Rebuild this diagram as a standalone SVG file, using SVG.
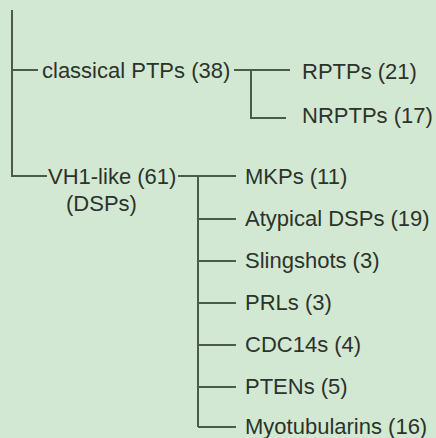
<svg xmlns="http://www.w3.org/2000/svg" width="436" height="438" viewBox="0 0 436 438">
  <style>
    .bg { fill: #d3e8d2; }
    .wire { fill: none; stroke: #4b5a4b; stroke-width: 2; }
    .label { font-family: "Liberation Sans", Arial, sans-serif; font-size: 22px; fill: #2b332b; }
  </style>
  <rect class="bg" x="0" y="0" width="436" height="438"/>

  <!-- tree connectors -->
  <g id="connectors">
    <path class="wire" d="M12 10 V176 H47"/>
    <path class="wire" d="M12 70 H38"/>
    <path class="wire" d="M234 70 H290 M251 70 V118 H286"/>
    <path class="wire" d="M178 176 H236 M198 176 V427"/>
    <path class="wire" d="M198 219 H236 M198 261 H236 M198 303 H236 M198 345 H236 M198 387 H236 M198 427 H236"/>
  </g>

  <g id="classical-ptps"><text class="label" x="42" y="78">classical PTPs (38)</text></g>
  <g id="rptps"><text class="label" x="302" y="79">RPTPs (21)</text></g>
  <g id="nrptps"><text class="label" x="302" y="123">NRPTPs (17)</text></g>
  <g id="vh1-like">
    <text class="label" x="48" y="184">VH1-like (61)</text>
    <text class="label" x="66" y="211">(DSPs)</text>
  </g>
  <g id="mkps"><text class="label" x="245" y="184">MKPs (11)</text></g>
  <g id="atypical-dsps"><text class="label" x="245" y="226">Atypical DSPs (19)</text></g>
  <g id="slingshots"><text class="label" x="245" y="268">Slingshots (3)</text></g>
  <g id="prls"><text class="label" x="245" y="310">PRLs (3)</text></g>
  <g id="cdc14s"><text class="label" x="245" y="352">CDC14s (4)</text></g>
  <g id="ptens"><text class="label" x="245" y="394">PTENs (5)</text></g>
  <g id="myotubularins"><text class="label" x="245" y="434">Myotubularins (16)</text></g>
</svg>
